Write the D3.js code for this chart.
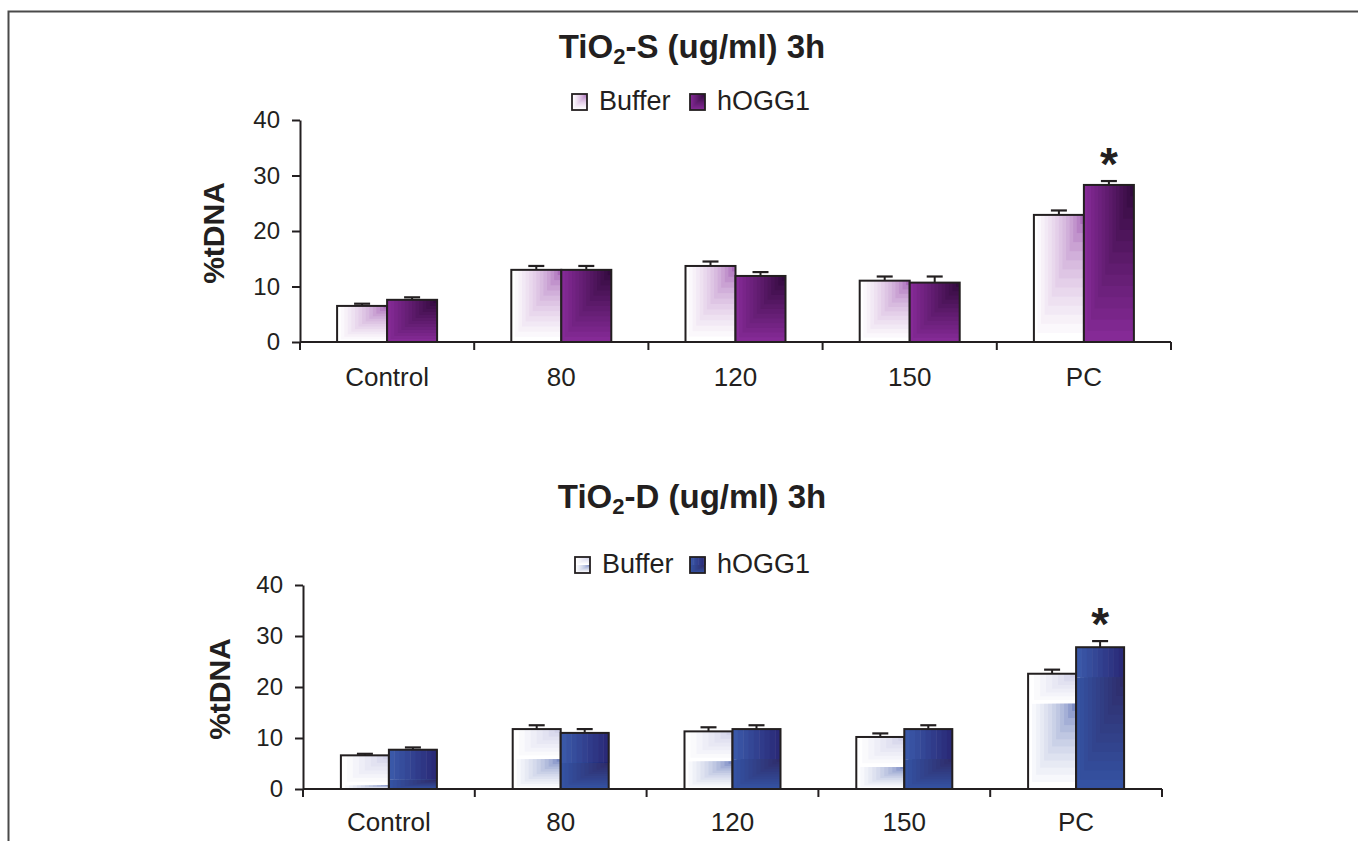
<!DOCTYPE html>
<html><head><meta charset="utf-8">
<script src="https://cdn.jsdelivr.net/npm/d3@7"></script>
<style>
html,body{margin:0;padding:0;background:#fff;}
svg{display:block;font-family:"Liberation Sans",Arial,sans-serif;}
</style></head>
<body>
<svg id="chart" width="1358" height="841"></svg>
<script>
// ---------- data ----------
const categories = ["Control", "80", "120", "150", "PC"];
const seriesNames = ["Buffer", "hOGG1"];
const yTicks = [0, 10, 20, 30, 40];

const sBuffer    = [6.5, 13.0, 13.7, 11.05, 22.9];
const sBufferErr = [0.4, 0.7, 0.8, 0.75, 0.8];
const sHogg      = [7.6, 13.0, 11.9, 10.7, 28.3];
const sHoggErr   = [0.45, 0.7, 0.7, 1.1, 0.7];

const dBuffer    = [6.6, 11.75, 11.3, 10.2, 22.6];
const dBufferErr = [0.3, 0.75, 0.8, 0.7, 0.8];
const dHogg      = [7.7, 11.0, 11.75, 11.75, 27.8];
const dHoggErr   = [0.45, 0.75, 0.75, 0.75, 1.2];

const sigS = ["", "", "", "", "*"];
const sigD = ["", "", "", "", "*"];

// ---------- setup ----------
const svg = d3.select("#chart");
const ink = "#231f20";

svg.append("path").attr("d", "M8.5,841 V11.5 H1358")
  .attr("fill", "none").attr("stroke", "#4a4a4a").attr("stroke-width", 2);

function cornerFill(g, x, y, w, h, cornerCol, farCol, steps, gamma) {
  const interp = d3.interpolateRgb(cornerCol, farCol);
  for (let i = 0; i < steps; i++) {
    const s = 1 - i / steps;
    const t = Math.pow(s, gamma);
    g.append("rect")
      .attr("x", x + w * (1 - s)).attr("y", y)
      .attr("width", w * s).attr("height", h * s)
      .attr("fill", interp(t));
  }
}
function hFill(g, x, y, w, h, leftCol, rightCol, steps) {
  const interp = d3.interpolateRgb(leftCol, rightCol);
  for (let i = 0; i < steps; i++) {
    g.append("rect").attr("x", x + w * i / steps).attr("y", y)
      .attr("width", w / steps + 0.5).attr("height", h)
      .attr("fill", interp(i / (steps - 1)));
  }
}

const styles = {
  S: [
    (g, x, y, w, h) => cornerFill(g, x, y, w, h, "#84289a", "#ffffff", 14, 0.45),
    (g, x, y, w, h) => cornerFill(g, x, y, w, h, "#2a0735", "#852a96", 14, 0.9)
  ],
  D: [
    (g, x, y, w, h, band) => {
      const hb = Math.min(band, h);
      cornerFill(g, x, y, w, hb, "#c4c4e2", "#ffffff", 8, 0.7);
      if (h > band) cornerFill(g, x, y + band, w, h - band, "#3a52a6", "#ffffff", 12, 0.45);
    },
    (g, x, y, w, h, band) => {
      const hb = Math.min(band, h);
      hFill(g, x, y, w, hb, "#3a58a8", "#2a2a78", 9);
      if (h > band) cornerFill(g, x, y + band, w, h - band, "#2e2966", "#3452a2", 12, 1);
    }
  ]
};

function drawPanel(cfg) {
  const g = svg.append("g");
  const y = d3.scaleLinear().domain([0, 40]).range([cfg.y0, cfg.y40]);
  const x0 = d3.scaleBand().domain(categories).range([cfg.xl, cfg.xr]).padding(0);
  const step = x0.step();
  const po = (step / cfg.barW - 2) / 2;
  const x1 = d3.scaleBand().domain(seriesNames).range([0, step]).paddingInner(0).paddingOuter(po);
  const bandPx = y(0) - y(cfg.bandUnits || 0);

  const data = [cfg.buf, cfg.hog];
  const errs = [cfg.bufErr, cfg.hogErr];

  categories.forEach((c, ci) => {
    seriesNames.forEach((s, si) => {
      const v = data[si][ci];
      const bx = x0(c) + x1(s), bw = x1.bandwidth();
      const by = y(v), bh = y(0) - y(v);
      const bg = g.append("g");
      cfg.fills[si](bg, bx, by, bw, bh, bandPx);
      bg.append("rect").attr("x", bx).attr("y", by).attr("width", bw).attr("height", bh)
        .attr("fill", "none").attr("stroke", ink).attr("stroke-width", 2);
      const cx = bx + bw / 2, ey = y(v + errs[si][ci]);
      g.append("line").attr("x1", cx).attr("x2", cx).attr("y1", by).attr("y2", ey)
        .attr("stroke", ink).attr("stroke-width", 2);
      g.append("line").attr("x1", cx - 8).attr("x2", cx + 8).attr("y1", ey).attr("y2", ey)
        .attr("stroke", ink).attr("stroke-width", 2.2);
      if (si === 1 && cfg.sig[ci]) {
        g.append("text").attr("x", cx).attr("y", ey - 1)
          .attr("text-anchor", "middle").attr("font-size", 46).attr("font-weight", "bold")
          .attr("fill", ink).text(cfg.sig[ci]);
      }
    });
  });

  const yAxis = d3.axisLeft(y).tickValues(yTicks).tickSize(8).tickSizeOuter(0).tickPadding(12);
  const ya = g.append("g").attr("transform", `translate(${cfg.xl},0)`).call(yAxis);
  ya.select(".domain").attr("stroke", ink).attr("stroke-width", 2);
  ya.selectAll(".tick line").attr("stroke", ink).attr("stroke-width", 2);
  ya.selectAll(".tick text").attr("font-size", 24).attr("fill", ink)
    .attr("font-family", "Liberation Sans, Arial, sans-serif");

  const xa = g.append("g");
  xa.append("line").attr("x1", cfg.xl).attr("x2", cfg.xr).attr("y1", y(0)).attr("y2", y(0))
    .attr("stroke", ink).attr("stroke-width", 2);
  const bounds = categories.map(c => x0(c)).concat([cfg.xr]);
  xa.selectAll("line.tk").data(bounds).enter().append("line").attr("class", "tk")
    .attr("x1", d => d).attr("x2", d => d).attr("y1", y(0)).attr("y2", y(0) + 8)
    .attr("stroke", ink).attr("stroke-width", 2);
  xa.selectAll("text").data(categories).enter().append("text")
    .attr("x", d => x0(d) + step / 2).attr("y", y(0) + cfg.catDy)
    .attr("text-anchor", "middle").attr("font-size", 26).attr("fill", ink).text(d => d);

  g.append("text").attr("transform", `translate(${cfg.ylabX},${(y(0) + y(40)) / 2 + 2}) rotate(-90)`)
    .attr("text-anchor", "middle").attr("font-size", 30).attr("font-weight", "bold")
    .attr("fill", ink).text("%tDNA");

  const t = g.append("text").attr("x", cfg.titleX).attr("y", cfg.titleY)
    .attr("text-anchor", "middle").attr("font-size", 33).attr("font-weight", "bold").attr("fill", ink);
  t.append("tspan").text("TiO");
  t.append("tspan").attr("font-size", 22).attr("dy", 6).text("2");
  t.append("tspan").attr("dy", -6).text(cfg.titleRest);

  const lg = g.append("g");
  seriesNames.forEach((s, si) => {
    const lx = cfg.legX[si], ly = cfg.legY;
    const bg = lg.append("g");
    cfg.fills[si](bg, lx, ly - 16, 15, 16, 8);
    bg.append("rect").attr("x", lx).attr("y", ly - 16).attr("width", 15).attr("height", 16)
      .attr("fill", "none").attr("stroke", ink).attr("stroke-width", 1.8);
    lg.append("text").attr("x", lx + 27).attr("y", ly).attr("font-size", 27)
      .attr("fill", ink).text(s);
  });
}

drawPanel({
  y0: 342, y40: 120, xl: 300, xr: 1171, barW: 50,
  buf: sBuffer, bufErr: sBufferErr, hog: sHogg, hogErr: sHoggErr, sig: sigS,
  fills: styles.S, bandUnits: 0, catDy: 44, ylabX: 224,
  titleX: 692, titleY: 58, titleRest: "-S (ug/ml) 3h",
  legX: [572, 690], legY: 110
});
drawPanel({
  y0: 789, y40: 585, xl: 303, xr: 1162, barW: 48,
  buf: dBuffer, bufErr: dBufferErr, hog: dHogg, hogErr: dHoggErr, sig: sigD,
  fills: styles.D, bandUnits: 5.9, catDy: 42, ylabX: 230,
  titleX: 692, titleY: 508, titleRest: "-D (ug/ml) 3h",
  legX: [575, 690], legY: 573
});
</script>
</body></html>
